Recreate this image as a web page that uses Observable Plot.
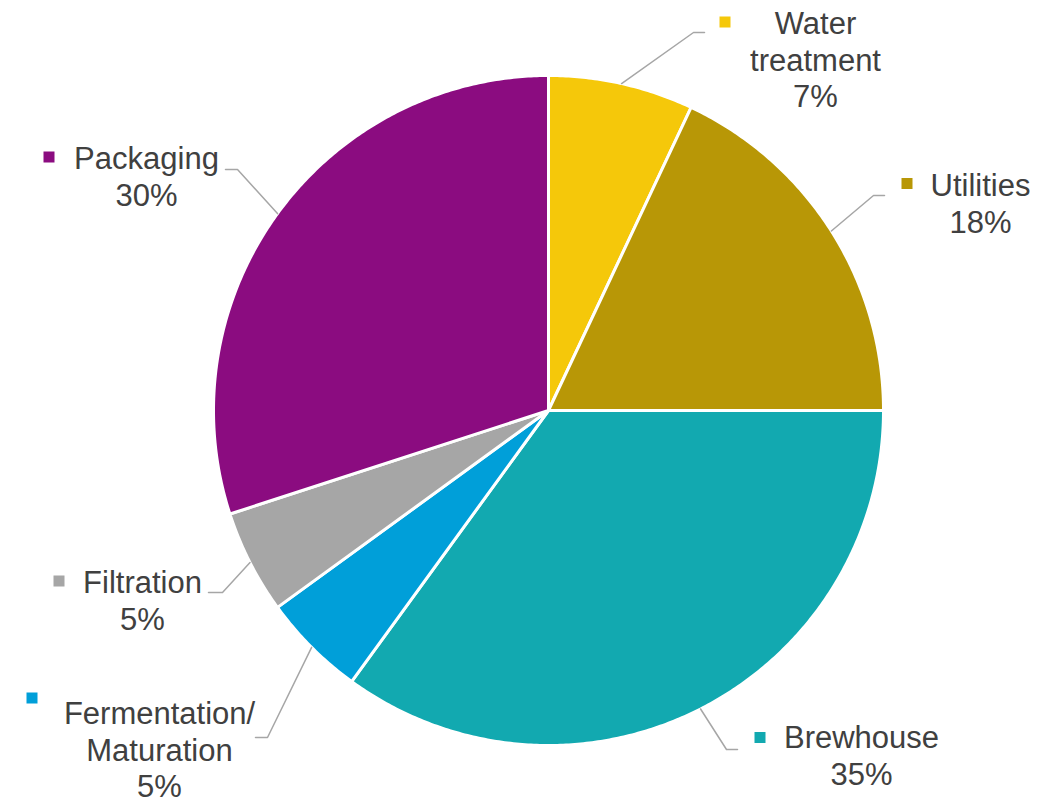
<!DOCTYPE html>
<html>
<head>
<meta charset="utf-8">
<script src="https://cdn.jsdelivr.net/npm/d3@7"></script>
<script src="https://cdn.jsdelivr.net/npm/@observablehq/plot@0.6"></script>
<style>
  html, body { margin: 0; padding: 0; background: #fff; }
  #chart { width: 1058px; height: 804px; }
</style>
</head>
<body>
<div id="chart"></div>
<script>
// ---- Data ----
const categories = ["Water\ntreatment", "Utilities", "Brewhouse", "Fermentation/\nMaturation", "Filtration", "Packaging"];
const values = [7, 18, 35, 5, 5, 30];
const colors = ["#F5C80A", "#B89706", "#12A9B0", "#009FD9", "#A6A6A6", "#8B0C80"];

// ---- Layout (pixel units) ----
const W = 1058, H = 804;
const cx = 548, cy = 410, R = 335;
const labelX = [815, 980, 861, 159, 142, 146];
const labelBaseline = [29, 191, 743, 719, 588, 164];
const squareX = [725, 907, 760, 32, 59, 49];
const squareY = [22, 183.5, 737.5, 698, 581, 157];
const bendX = [693, 873, 726, 267, 222, 237];
const bendY = [32, 195, 749, 737, 592, 169];
const endX = [704, 884, 737, 255, 208, 225];
const endY = [32, 195, 749, 737, 592, 169];
const fontSize = 31;

const total = d3.sum(values);
const slices = [];
let cum = 0;
values.forEach((v, i) => {
  const a0 = cum / total * 2 * Math.PI;
  cum += v;
  const a1 = cum / total * 2 * Math.PI;
  slices.push({i, a0, a1, mid: (a0 + a1) / 2});
});

const pt = (a, r) => [cx + r * Math.sin(a), cy - r * Math.cos(a)];

// slice outlines
const slicePts = [];
slices.forEach(s => {
  const name = categories[s.i];
  slicePts.push({name, color: colors[s.i], x: cx, y: cy});
  const n = Math.max(2, Math.ceil((s.a1 - s.a0) / (Math.PI / 360)));
  for (let k = 0; k <= n; k++) {
    const a = s.a0 + (s.a1 - s.a0) * k / n;
    const [x, y] = pt(a, R);
    slicePts.push({name, color: colors[s.i], x, y});
  }
  slicePts.push({name, color: colors[s.i], x: cx, y: cy});
});

// leader lines
const leaderPts = [];
slices.forEach(s => {
  const [x0, y0] = pt(s.mid, R);
  leaderPts.push({k: s.i, x: x0, y: y0});
  leaderPts.push({k: s.i, x: bendX[s.i], y: bendY[s.i]});
  leaderPts.push({k: s.i, x: endX[s.i], y: endY[s.i]});
});

const labels = categories.map((c, i) => ({
  text: c + "\n" + values[i] + "%",
  x: labelX[i],
  y: labelBaseline[i] - 0.71 * fontSize,
  sx: squareX[i], sy: squareY[i], color: colors[i]
}));

const chart = Plot.plot({
  width: W, height: H,
  margin: 0,
  x: {domain: [0, W], range: [0, W], axis: null},
  y: {domain: [0, H], range: [0, H], axis: null},
  color: {type: "identity"},
  style: {fontFamily: "'Liberation Sans', Arial, sans-serif", background: "#fff"},
  marks: [
    Plot.line(slicePts, {x: "x", y: "y", z: "name", fill: "color", stroke: "white", strokeWidth: 3, strokeLinejoin: "round", curve: "linear"}),
    Plot.line(leaderPts, {x: "x", y: "y", z: "k", stroke: "#A6A6A6", strokeWidth: 1.5, curve: "linear"}),
    Plot.rect(labels, {x1: d => d.sx - 5.5, x2: d => d.sx + 5.5, y1: d => d.sy - 5.5, y2: d => d.sy + 5.5, fill: "color"}),
    Plot.text(labels, {x: "x", y: "y", text: "text", fontSize: fontSize, lineHeight: 1.19, lineAnchor: "top", textAnchor: "middle", fill: "#404040"})
  ]
});
document.getElementById("chart").appendChild(chart);
</script>
</body>
</html>
